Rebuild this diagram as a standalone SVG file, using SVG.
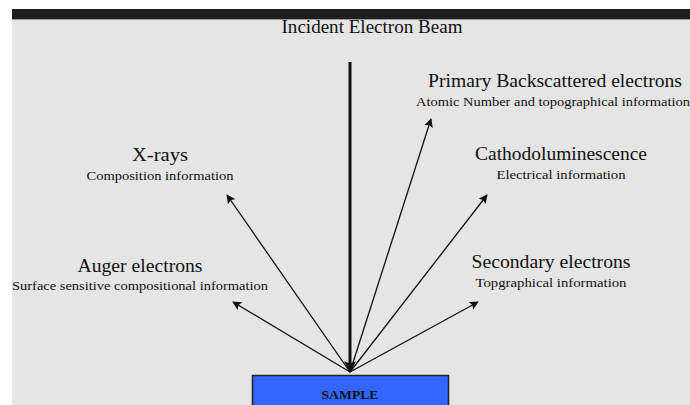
<svg xmlns="http://www.w3.org/2000/svg" width="690" height="405" viewBox="0 0 690 405">
<defs>
<style>
.t{font-family:"Liberation Serif","Times New Roman",serif;fill:#111;text-anchor:middle}
.h{font-size:18px}
.s{font-size:12.5px}
.ray{stroke:#111;stroke-width:1.3;fill:none;marker-end:url(#ah)}
</style>
<marker id="ah" viewBox="0 0 10 10" refX="9" refY="5" markerWidth="9" markerHeight="9" markerUnits="userSpaceOnUse" orient="auto">
<path d="M0,0 L10,5 L0,10 L2,5 z" fill="#111"/>
</marker>
<marker id="ahb" viewBox="0 0 10 10" refX="9" refY="5" markerWidth="12" markerHeight="12" markerUnits="userSpaceOnUse" orient="auto">
<path d="M0,0 L10,5 L0,10 L2,5 z" fill="#111"/>
</marker>
</defs>
<rect x="0" y="0" width="690" height="405" fill="#ffffff"/>
<rect x="12" y="9" width="678" height="396" fill="#e5e5e5"/>
<rect x="12" y="9" width="678" height="10" fill="#1e1e1e"/>
<line x1="12" y1="19.5" x2="690" y2="19.5" stroke="#9a9a9a" stroke-width="1"/>

<g id="connectors">
<line x1="350" y1="62" x2="350" y2="372" stroke="#111" stroke-width="3" marker-end="url(#ahb)"/>
<line class="ray" x1="350" y1="372" x2="227" y2="195"/>
<line class="ray" x1="350" y1="372" x2="233" y2="302"/>
<line class="ray" x1="350" y1="372" x2="431" y2="119"/>
<line class="ray" x1="350" y1="372" x2="487" y2="195"/>
<line class="ray" x1="350" y1="372" x2="478" y2="302"/>
</g>

<g id="beam"><text class="t h" x="372" y="33" textLength="181" lengthAdjust="spacingAndGlyphs">Incident Electron Beam</text></g>
<g id="xrays">
<text class="t h" x="160" y="161" textLength="56" lengthAdjust="spacingAndGlyphs">X-rays</text>
<text class="t s" x="160" y="180" textLength="147" lengthAdjust="spacingAndGlyphs">Composition information</text>
</g>
<g id="auger">
<text class="t h" x="140" y="272" textLength="125" lengthAdjust="spacingAndGlyphs">Auger electrons</text>
<text class="t s" x="140" y="290" textLength="256" lengthAdjust="spacingAndGlyphs">Surface sensitive compositional information</text>
</g>
<g id="backscattered">
<text class="t h" x="555" y="87" textLength="254" lengthAdjust="spacingAndGlyphs">Primary Backscattered electrons</text>
<text class="t s" x="553" y="106" textLength="274" lengthAdjust="spacingAndGlyphs">Atomic Number and topographical information</text>
</g>
<g id="cathodo">
<text class="t h" x="561" y="160" textLength="172" lengthAdjust="spacingAndGlyphs">Cathodoluminescence</text>
<text class="t s" x="561" y="179" textLength="129" lengthAdjust="spacingAndGlyphs">Electrical information</text>
</g>
<g id="secondary">
<text class="t h" x="551" y="268" textLength="159" lengthAdjust="spacingAndGlyphs">Secondary electrons</text>
<text class="t s" x="551" y="287" textLength="151" lengthAdjust="spacingAndGlyphs">Topgraphical information</text>
</g>
<g id="sample">
<rect x="252.5" y="375.5" width="196" height="34" fill="#3366ff" stroke="#222" stroke-width="1.5"/>
<text class="t s" x="350" y="399" textLength="57" lengthAdjust="spacingAndGlyphs" style="font-weight:bold">SAMPLE</text>
</g>
</svg>
